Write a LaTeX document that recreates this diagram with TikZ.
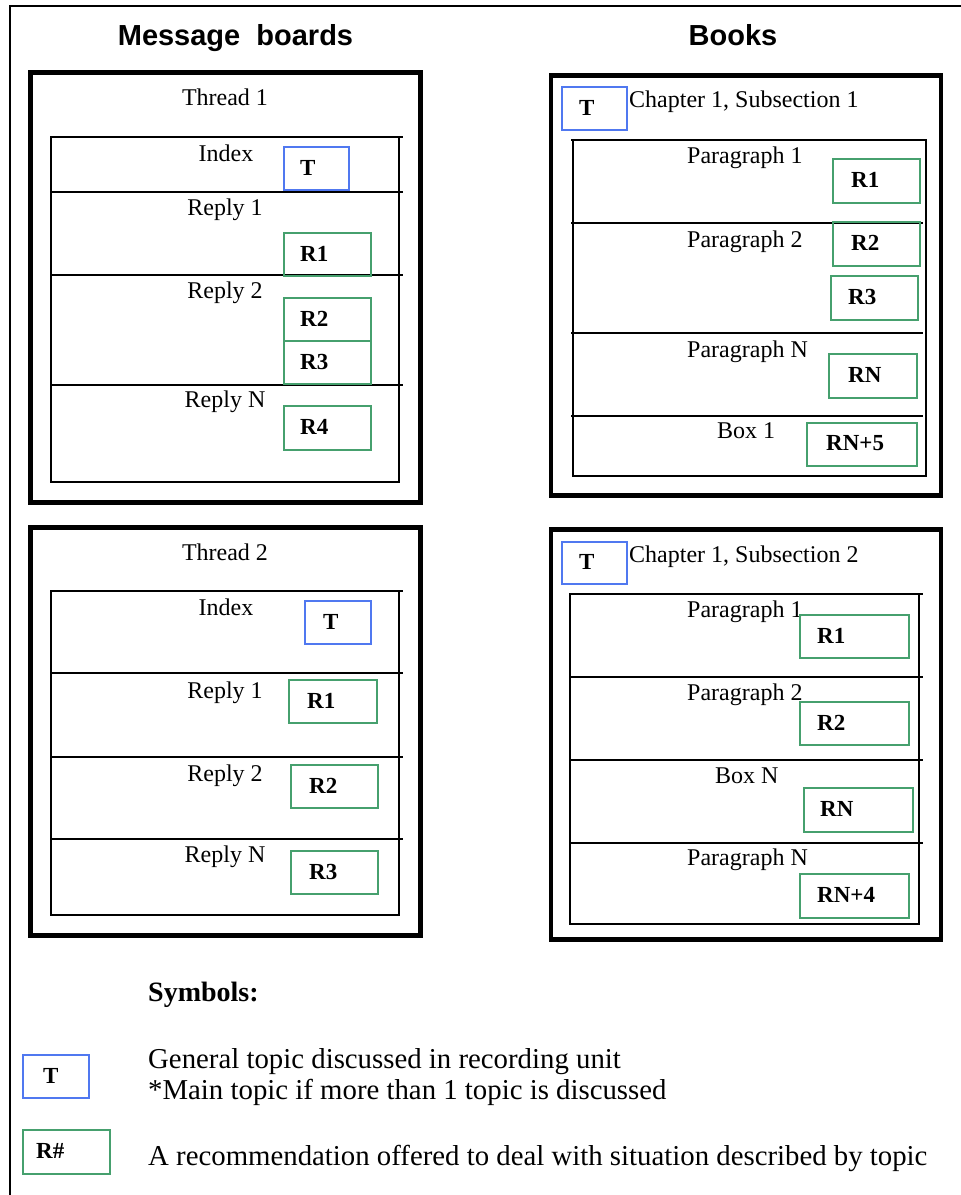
\documentclass[tikz,border=0pt]{standalone}
\usepackage{fontspec}
\setmainfont{Liberation Serif}
\newfontfamily\hdrfont{Liberation Sans}
\definecolor{tblue}{RGB}{80,120,240}
\definecolor{rgreen}{RGB}{70,160,110}
\tikzset{
  frame/.style={line width=2.5pt, black},
  unitbox/.style={line width=4.5pt, black},
  tbl/.style={line width=1.3pt, black},
  tbltop/.style={line width=2pt, black},
  hdr/.style={font=\hdrfont\bfseries\fontsize{29}{33}\selectfont, inner sep=0pt, anchor=base},
  lbl/.style={font=\fontsize{24}{28}\selectfont, inner sep=0pt, anchor=base},
  lblw/.style={lbl, anchor=base west},
  legtxt/.style={font=\fontsize{28.8}{32}\selectfont, inner sep=0pt, anchor=base west},
  boxtxt/.style={font=\bfseries\fontsize{23}{27}\selectfont, inner sep=0pt},
  tbox/.style={draw=tblue, line width=1.5pt, inner sep=0pt},
  rbox/.style={draw=rgreen, line width=1.5pt, inner sep=0pt},
}
\newcommand\tagbox[8]{%
  \node[#1, anchor=north west, minimum width={#5-#3}, minimum height={#6-#4}] (#2) at (#3,#4) {};
  \node[boxtxt, anchor=west] (#2t) at (#7,{(#4+#6)/2}) {#8};}
\begin{document}
\begin{tikzpicture}[x=1pt,y=-1pt]
\useasboundingbox (0,0) rectangle (961,1195);
% outer frame
\coordinate (fb) at (10,1195);
\coordinate (ftl) at (10,6);
\coordinate (fr) at (961,6);
\draw[frame] (fb) -- (ftl) -- (fr);

% headers
\node[hdr] (hmb) at (235.5,45) {Message\ \ boards};
\node[hdr] (hbk) at (733,45) {Books};

% ===== Thread 1 =====
\draw[unitbox] (30.5,72.5) rectangle (420.5,502.5);
\node[lbl] (th1) at (225,105) {Thread 1};
\draw[tbl] (51,137) rectangle (399,482);
\draw[tbl] (51,137) -- (403,137);
\draw[tbl] (51,192) -- (403,192);
\draw[tbl] (51,275) -- (403,275);
\draw[tbl] (51,385) -- (403,385);
\node[lbl] (t1a) at (226,161) {Index};
\node[lbl] (t1b) at (225,215) {Reply 1};
\node[lbl] (t1c) at (225,298) {Reply 2};
\node[lbl] (t1d) at (225,407) {Reply N};
\tagbox{tbox}{t1T}{283}{146}{348}{189}{300}{T}
\tagbox{rbox}{t1R1}{283}{232}{370}{275}{300}{R1}
\tagbox{rbox}{t1R2}{283}{297}{370}{340}{300}{R2}
\tagbox{rbox}{t1R3}{283}{340}{370}{383}{300}{R3}
\tagbox{rbox}{t1R4}{283}{405}{370}{449}{300}{R4}

% ===== Thread 2 =====
\draw[unitbox] (30.5,527.5) rectangle (420.5,935.5);
\node[lbl] (th2) at (225,560) {Thread 2};
\draw[tbl] (51,591) rectangle (399,915);
\draw[tbl] (51,591) -- (403,591);
\draw[tbl] (51,673) -- (403,673);
\draw[tbl] (51,757) -- (403,757);
\draw[tbl] (51,839) -- (403,839);
\node[lbl] (t2a) at (226,615) {Index};
\node[lbl] (t2b) at (225,698) {Reply 1};
\node[lbl] (t2c) at (225,781) {Reply 2};
\node[lbl] (t2d) at (225,862) {Reply N};
\tagbox{tbox}{t2T}{304}{600}{370}{643}{323}{T}
\tagbox{rbox}{t2R1}{288}{679}{376}{722}{307}{R1}
\tagbox{rbox}{t2R2}{290}{764}{377}{807}{309}{R2}
\tagbox{rbox}{t2R3}{290}{850}{377}{893}{309}{R3}

% ===== Books 1 =====
\draw[unitbox] (551,75.5) rectangle (941,495.5);
\node[lblw] (b1h) at (629,107) {Chapter 1, Subsection 1};
\draw[tbl] (573,140) rectangle (926,476);
\draw[tbltop] (571,140) -- (926,140);
\draw[tbl] (571,223) -- (923,223);
\draw[tbl] (571,333) -- (923,333);
\draw[tbl] (571,416) -- (923,416);
\node[lblw] (b1a) at (687,163) {Paragraph 1};
\node[lblw] (b1b) at (687,247) {Paragraph 2};
\node[lblw] (b1c) at (687,357) {Paragraph N};
\node[lblw] (b1d) at (717,438) {Box 1};
\tagbox{tbox}{b1T}{561}{86}{626}{129}{579}{T}
\tagbox{rbox}{b1R1}{832}{158}{919}{202}{851}{R1}
\tagbox{rbox}{b1R2}{832}{221}{919}{265}{851}{R2}
\tagbox{rbox}{b1R3}{830}{275}{917}{319}{848}{R3}
\tagbox{rbox}{b1RN}{828}{353}{916}{397}{848}{RN}
\tagbox{rbox}{b1RN5}{806}{422}{916}{465}{826}{RN+5}

% ===== Books 2 =====
\draw[unitbox] (551,529.5) rectangle (941,939.5);
\node[lblw] (b2h) at (629,562) {Chapter 1, Subsection 2};
\draw[tbl] (570,594) rectangle (919,924);
\draw[tbltop] (570,594) -- (923,594);
\draw[tbl] (570,677) -- (923,677);
\draw[tbl] (570,760) -- (923,760);
\draw[tbl] (570,843) -- (923,843);
\node[lblw] (b2a) at (687,617) {Paragraph 1};
\node[lblw] (b2b) at (687,700) {Paragraph 2};
\node[lblw] (b2c) at (715,783) {Box N};
\node[lblw] (b2d) at (687,865) {Paragraph N};
\tagbox{tbox}{b2T}{561}{541}{626}{583}{579}{T}
\tagbox{rbox}{b2R1}{799}{614}{908}{657}{817}{R1}
\tagbox{rbox}{b2R2}{799}{701}{908}{744}{817}{R2}
\tagbox{rbox}{b2RN}{803}{787}{912}{831}{820}{RN}
\tagbox{rbox}{b2RN4}{799}{873}{908}{917}{817}{RN+4}

% ===== Legend =====
\node[legtxt, font=\bfseries\fontsize{28}{32}\selectfont] (sym) at (148,1001) {Symbols:};
\tagbox{tbox}{lgT}{22}{1054}{88}{1097}{43}{T}
\tagbox{rbox}{lgR}{22}{1129}{109}{1173}{36}{R\#}
\node[legtxt] (lg1) at (148,1068) {General topic discussed in recording unit};
\node[legtxt] (lg2) at (148,1099) {*Main topic if more than 1 topic is discussed};
\node[legtxt] (lg3) at (148,1165) {A recommendation offered to deal with situation described by topic};
\end{tikzpicture}
\end{document}
